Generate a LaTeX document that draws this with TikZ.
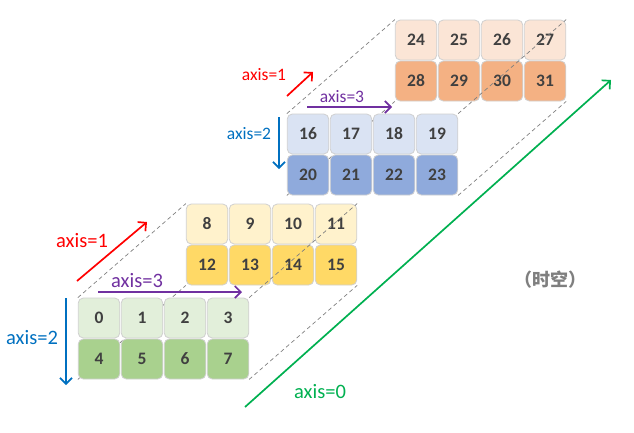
\documentclass[tikz,border=0pt]{standalone}
\usepackage{fontspec}
\setmainfont{Carlito}
\newfontfamily\cjk{Noto Sans CJK SC}
\usetikzlibrary{arrows.meta}
\pgfdeclarelayer{back}
\pgfdeclarelayer{mid}
\pgfsetlayers{back,mid,main}
\definecolor{cellborder}{HTML}{D0D0D0}
\definecolor{numtext}{HTML}{404040}
\definecolor{gL}{HTML}{E2EFDA}
\definecolor{gD}{HTML}{A9D18E}
\definecolor{yL}{HTML}{FFF2CC}
\definecolor{yD}{HTML}{FFD966}
\definecolor{bL}{HTML}{DAE3F3}
\definecolor{bD}{HTML}{8FAADC}
\definecolor{oL}{HTML}{FBE5D6}
\definecolor{oD}{HTML}{F4B183}
\definecolor{axred}{HTML}{FF0000}
\definecolor{axpurple}{HTML}{7030A0}
\definecolor{axblue}{HTML}{0070C0}
\definecolor{axgreen}{HTML}{00B050}
\definecolor{dashgray}{HTML}{808080}
\definecolor{cjkgray}{HTML}{7F7F7F}
\newcommand\drawblock[5]{%
  \foreach \c in {0,...,3}{%
    \pgfmathtruncatemacro\n{#3+\c}%
    \node[cell, fill=#4] (c\n) at ({#1+21+43*\c},{#2+20}) {\n};
    \pgfmathtruncatemacro\m{#3+4+\c}%
    \node[cell, fill=#5] (c\m) at ({#1+21+43*\c},{#2+61}) {\m};
  }%
}
\begin{document}
\begin{tikzpicture}[x=1pt,y=-1pt,
  cell/.style={rectangle, rounded corners=5pt, draw=cellborder, line width=0.8pt,
    minimum width=41.5pt, minimum height=40pt, inner sep=0pt, text=numtext,
    font=\fontsize{17.5}{18}\selectfont\bfseries},
  dashln/.style={draw=dashgray, line width=0.7pt, dash pattern=on 4pt off 3pt},
  axarrow/.style={line width=1.7pt, -{Straight Barb[length=6pt,width=12pt]}},
  biglabel/.style={inner sep=0pt, font=\fontsize{20.5}{24}\selectfont},
  smalllabel/.style={inner sep=0pt, font=\fontsize{17.5}{20}\selectfont}]
\useasboundingbox (0,0) rectangle (634,432);

% back blocks
\begin{pgfonlayer}{back}
\drawblock{186}{204}{8}{yL}{yD}
\drawblock{395}{20}{24}{oL}{oD}
\end{pgfonlayer}

% front blocks
\drawblock{78}{298}{0}{gL}{gD}
\drawblock{287}{114}{16}{bL}{bD}

% dashed depth lines
\begin{pgfonlayer}{mid}
\draw[dashln] (c0.north west) -- (c8.north west);
\draw[dashln] (c3.north east) -- (c11.north east);
\draw[dashln] (c7.south east) -- (c15.south east);
\draw[dashln] (c4.south west) -- (c12.south west);
\draw[dashln] (c16.north west) -- (c24.north west);
\draw[dashln] (c19.north east) -- (c27.north east);
\draw[dashln] (c23.south east) -- (c31.south east);
\draw[dashln] (c20.south west) -- (c28.south west);
\end{pgfonlayer}

% arrow end points
\coordinate (r1s) at (77,281);  \coordinate (r1e) at (147,222);
\coordinate (p1s) at (98,292);  \coordinate (p1e) at (242,292);
\coordinate (b1s) at (66,298);  \coordinate (b1e) at (66,385);
\coordinate (r2s) at (287,96);  \coordinate (r2e) at (313,72);
\coordinate (p2s) at (307,107); \coordinate (p2e) at (392,107);
\coordinate (b2s) at (279,117); \coordinate (b2e) at (279,169);
\coordinate (gs) at (245,407);  \coordinate (ge) at (611,80);

\draw[axarrow, axred] (r1s) -- (r1e);
\draw[axarrow, axpurple] (p1s) -- (p1e);
\draw[axarrow, axblue] (b1s) -- (b1e);
\draw[axarrow, axred] (r2s) -- (r2e);
\draw[axarrow, axpurple] (p2s) -- (p2e);
\draw[axarrow, axblue] (b2s) -- (b2e);
\draw[axarrow, axgreen] (gs) -- (ge);

% labels
\node[biglabel, text=axred] (lr1) at (82,241) {axis=1};
\node[biglabel, text=axpurple] (lp1) at (137,281) {axis=3};
\node[biglabel, text=axblue] (lb1) at (32,338) {axis=2};
\node[biglabel, text=axgreen] (lg) at (320,392) {axis=0};
\node[smalllabel, text=axred] (lr2) at (264,75) {axis=1};
\node[smalllabel, text=axpurple] (lp2) at (342,97) {axis=3};
\node[smalllabel, text=axblue] (lb2) at (249,134) {axis=2};
\node[inner sep=0pt, text=cjkgray, font=\cjk\fontsize{18}{20}\selectfont\bfseries] (st) at (550,280) {（时空）};
\end{tikzpicture}
\end{document}
